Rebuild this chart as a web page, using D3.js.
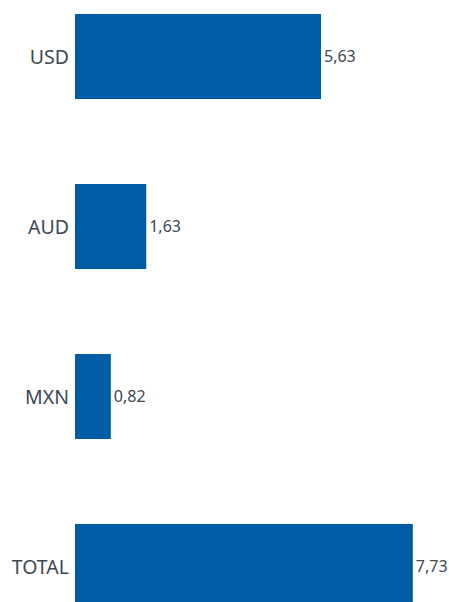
<!DOCTYPE html>
<html>
<head>
<meta charset="utf-8">
<script src="https://cdn.jsdelivr.net/npm/d3@7"></script>
<style>
  html, body { margin: 0; padding: 0; background: #fff; overflow: hidden; }
  text { font-family: "Noto Sans", "Open Sans", sans-serif; fill: #3c4753; }
</style>
</head>
<body>
<script>
// chart data
const categories = ["USD", "AUD", "MXN", "TOTAL"];
const values = [5.63, 1.63, 0.82, 7.73];
const valueLabels = ["5,63", "1,63", "0,82", "7,73"];

const width = 449, height = 602;

let svg = d3.select("body")
  .append("svg")
  .attr("width", width)
  .attr("height", height);

// 0 sits at x=75, ~43.7px per unit
let x = d3.scaleLinear()
  .domain([0, 7.73])
  .range([75, 412.8]);

let y = d3.scaleBand()
  .domain(categories)
  .range([-28.5, 651.5])
  .paddingInner(0.5)
  .paddingOuter(0.25);

categories.forEach((cat, i) => {
  svg.append("rect")
    .attr("x", x(0))
    .attr("y", y(cat))
    .attr("width", x(values[i]) - x(0))
    .attr("height", y.bandwidth())
    .attr("fill", "#005ca4");

  svg.append("text")
    .attr("x", x(0) - 6)
    .attr("y", y(cat) + y.bandwidth() / 2)
    .attr("dy", "0.36em")
    .attr("text-anchor", "end")
    .style("font-size", "19.5px")
    .text(cat);

  svg.append("text")
    .attr("x", x(values[i]) + 3)
    .attr("y", y(cat) + y.bandwidth() / 2)
    .attr("dy", "0.36em")
    .style("font-size", "16px")
    .text(valueLabels[i]);
})
</script>
</body>
</html>
